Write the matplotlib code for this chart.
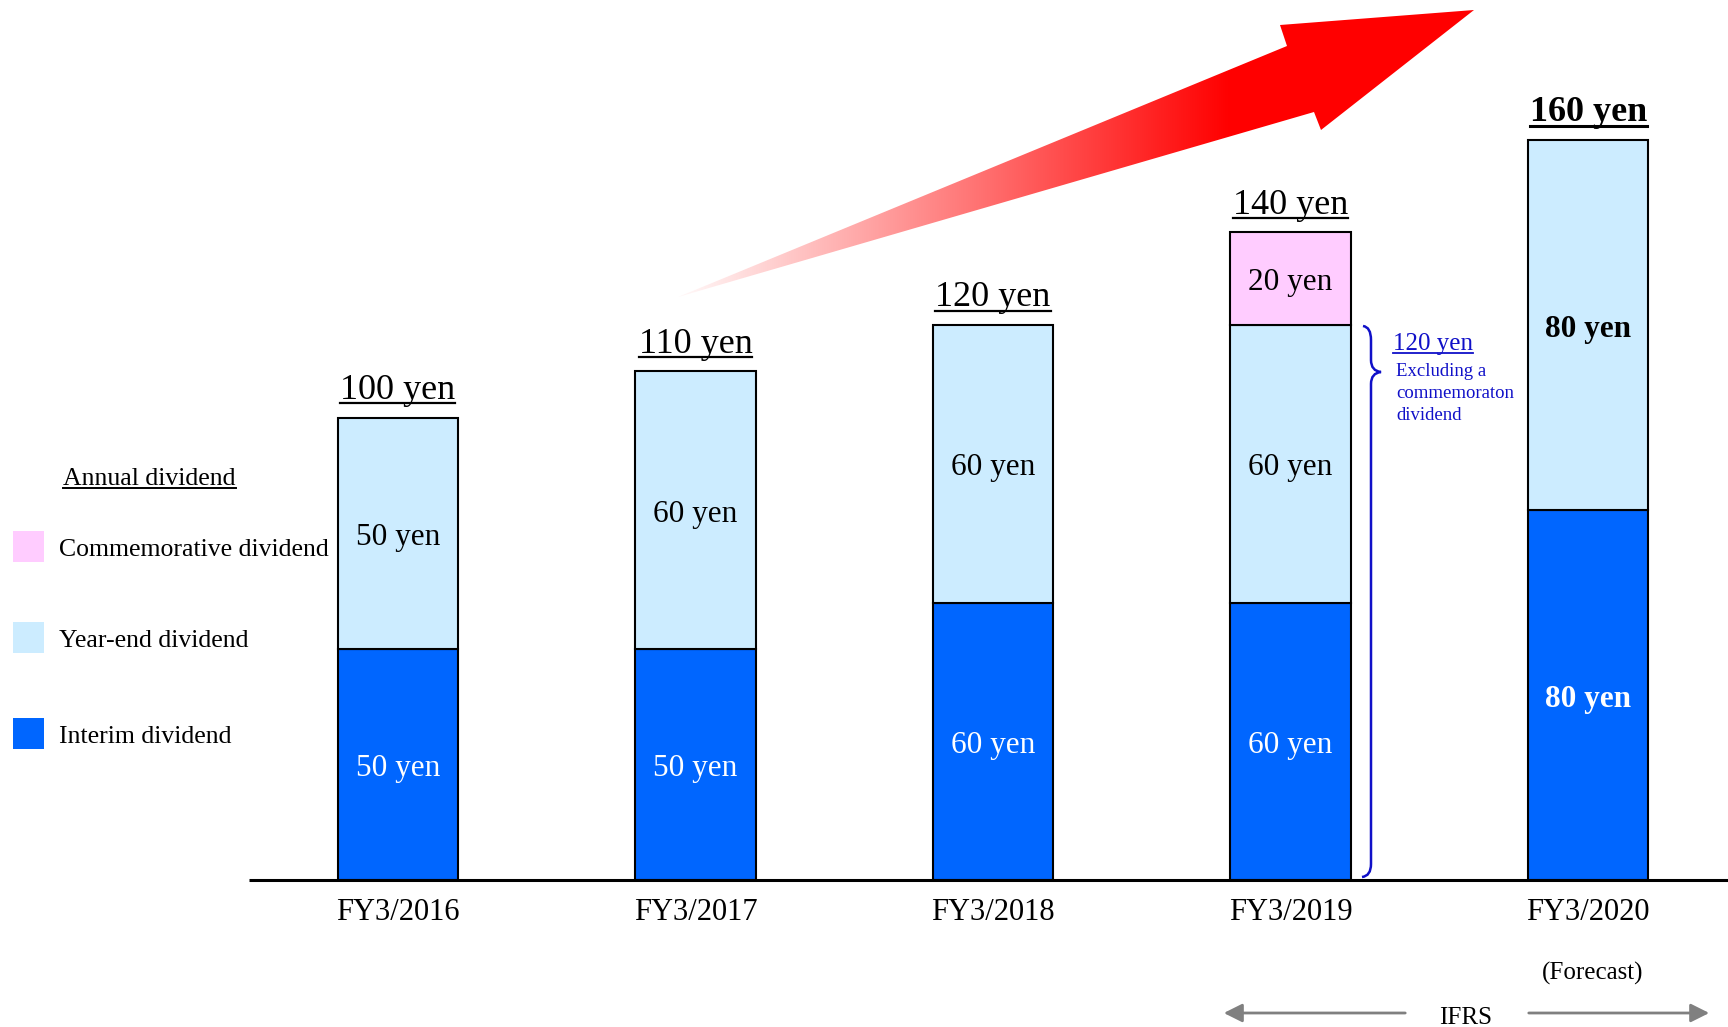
import matplotlib
matplotlib.use('Agg')
import matplotlib.pyplot as plt
import numpy as np
from matplotlib.patches import Polygon, PathPatch, Rectangle
from matplotlib.path import Path

plt.rcParams['font.family'] = ['Liberation Serif', 'DejaVu Serif']

# data
years = ['FY3/2016', 'FY3/2017', 'FY3/2018', 'FY3/2019', 'FY3/2020']
interim = [50, 50, 60, 60, 80]
year_end = [50, 60, 60, 60, 80]
commemorative = [0, 0, 0, 20, 0]
legend_labels = ['Commemorative dividend', 'Year-end dividend', 'Interim dividend']

C_INT = '#0066FF'
C_YE = '#CCECFF'
C_COM = '#FFCCFF'
BLUE = '#1010C8'

fig = plt.figure(figsize=(17.28, 10.27), dpi=100)

# overlay in pixel coords (decorations), drawn behind the bars
ov = fig.add_axes([0, 0, 1, 1], zorder=0)
ov.axis('off')

ax = fig.add_axes([0, 0, 1, 1], zorder=1)
ax.patch.set_alpha(0)
ax.set_xlim(-1.337, 4.470)
ax.set_ylim(-31.67, 190.2)
ax.axis('off')

x = np.arange(len(years))
w = 0.404
ax.bar(x, interim, w, color=C_INT, edgecolor='black', lw=1.5, zorder=3)
ax.bar(x, year_end, w, bottom=interim, color=C_YE, edgecolor='black', lw=1.5, zorder=3)
bot2 = np.add(interim, year_end)
m = np.array(commemorative) > 0
ax.bar(x[m], np.array(commemorative)[m], w, bottom=bot2[m], color=C_COM,
       edgecolor='black', lw=1.5, zorder=3)
ax.plot([-0.5, 4.6], [0, 0], color='black', lw=2.2, zorder=4, solid_capstyle='butt')

totals = np.add(bot2, commemorative)
dy = -0.9  # nudge for optical centering
underlined = []
for i in range(len(years)):
    bold = 'bold' if i == len(years) - 1 else 'normal'
    ax.text(x[i], interim[i] / 2 + dy, f'{interim[i]} yen', ha='center', va='center',
            fontsize=22.5, color='white', fontweight=bold, zorder=5)
    ax.text(x[i], interim[i] + year_end[i] / 2 + dy, f'{year_end[i]} yen', ha='center',
            va='center', fontsize=22.5, color='black', fontweight=bold, zorder=5)
    if commemorative[i]:
        ax.text(x[i], bot2[i] + commemorative[i] / 2 + dy, f'{commemorative[i]} yen',
                ha='center', va='center', fontsize=22.5, fontweight=bold, zorder=5)
    t = ax.text(x[i], totals[i] + 4.0, f'{totals[i]} yen', ha='center', va='baseline',
                fontsize=26, fontweight=bold, zorder=5)
    underlined.append((t, 'black', 2.2 if bold == 'bold' else 1.6))
    ax.text(x[i], -6.9, years[i], ha='center', va='center', fontsize=22)
ax.text(x[-1] + 0.015, -20.0, '(Forecast)', ha='center', va='center', fontsize=18)

# gradient arrow
pts = [(678, 297), (1287, 46), (1280, 25), (1474, 10), (1321, 130), (1314, 112)]
poly = Polygon(pts, closed=True, facecolor='none', edgecolor='none')
ov.add_patch(poly)
xs = np.linspace(670, 1480, 600)
f = np.clip((xs - 690) / (1230 - 690), 0, 1)
g = 0.96 * (1 - f)
grad = np.zeros((1, len(xs), 3))
grad[0, :, 0] = 1
grad[0, :, 1] = g
grad[0, :, 2] = g
im = ov.imshow(grad, extent=(670, 1480, 300, 5), aspect='auto', zorder=1)
im.set_clip_path(poly)

# legend
t = ov.text(63, 485, 'Annual dividend', fontsize=18.5, va='baseline', ha='left')
underlined.append((t, 'black', 1.4))
for yy, col, lab in zip([531, 622, 718], [C_COM, C_YE, C_INT], legend_labels):
    ov.add_patch(Rectangle((13, yy), 31, 31, facecolor=col, edgecolor='none'))
    ov.text(59, yy + 19, lab, fontsize=18.5, va='center', ha='left')

# brace for FY3/2019
verts = [(1363, 326), (1371, 327), (1371, 340), (1371, 360), (1371, 371), (1381, 372),
         (1371, 373), (1371, 384), (1371, 864), (1371, 876), (1362, 877)]
codes = [Path.MOVETO, Path.CURVE3, Path.CURVE3, Path.LINETO, Path.CURVE3, Path.CURVE3,
         Path.CURVE3, Path.CURVE3, Path.LINETO, Path.CURVE3, Path.CURVE3]
ov.add_patch(PathPatch(Path(verts, codes), facecolor='none', edgecolor=BLUE, lw=1.8))
t = ov.text(1393, 350, '120 yen', fontsize=18, color=BLUE, va='baseline', ha='left')
underlined.append((t, BLUE, 1.3))
for yy, s in zip([372, 394, 416], ['Excluding a', 'commemoraton', 'dividend']):
    ov.text(1396, yy, s, fontsize=13.5, color=BLUE, va='center', ha='left')

# IFRS arrows
ov.annotate('', xy=(1221, 1013), xytext=(1408, 1013),
            arrowprops=dict(arrowstyle='-|>', color='#808080', lw=2, mutation_scale=28))
ov.annotate('', xy=(1712, 1013), xytext=(1526, 1013),
            arrowprops=dict(arrowstyle='-|>', color='#808080', lw=2, mutation_scale=28))
ov.text(1466, 1018, 'IFRS', fontsize=18, ha='center', va='center')

ov.set_xlim(0, 1728)
ov.set_ylim(1027, 0)

# underlines under text
fig.canvas.draw()
r = fig.canvas.get_renderer()
inv = ov.transData.inverted()
for t, col, lw in underlined:
    bb = t.get_window_extent(r)
    base = t.get_transform().transform(t.get_position())[1]
    yb = base - 0.12 * t.get_fontsize() * fig.dpi / 72
    p0 = inv.transform((bb.x0, yb))
    p1 = inv.transform((bb.x1, yb))
    ov.plot([p0[0], p1[0]], [p0[1], p1[1]], color=col, lw=lw, zorder=6)

fig.savefig('out.png', dpi=100)
